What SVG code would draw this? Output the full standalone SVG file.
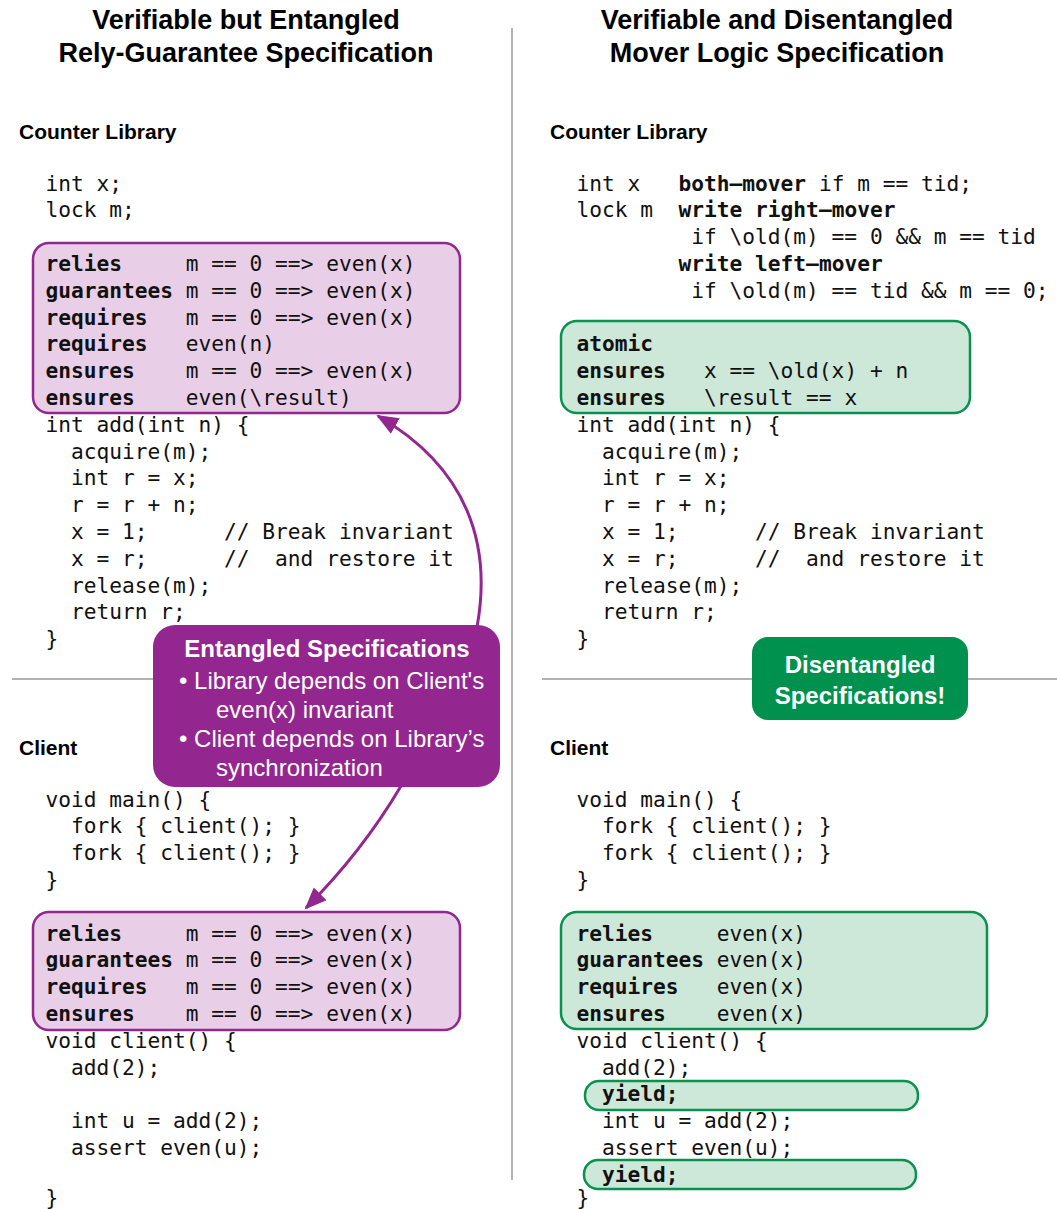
<svg xmlns="http://www.w3.org/2000/svg" width="1057" height="1209" viewBox="0 0 1057 1209">
<style>
.code{font-family:"DejaVu Sans Mono",monospace;font-size:21.2px;fill:#111;white-space:pre}
.b{font-weight:bold}
.title{font-family:"Liberation Sans",Arial,sans-serif;font-size:27px;font-weight:bold;fill:#000;text-anchor:middle}
.head{font-family:"Liberation Sans",Arial,sans-serif;font-size:21px;font-weight:bold;fill:#000}
.pbox{fill:#e8cfe7;stroke:#93268f;stroke-width:2.5}
.gbox{fill:#cde7d9;stroke:#0a9150;stroke-width:2.5}
.call{font-family:"Liberation Sans",Arial,sans-serif;font-size:24px;fill:#fff;white-space:pre}
.div{stroke:#999;stroke-width:1.5;fill:none}
.arr{stroke:#93268f;stroke-width:3;fill:none}
</style>
<defs>
<marker id="ah" markerUnits="userSpaceOnUse" markerWidth="24" markerHeight="20" refX="20" refY="9" orient="auto">
<path d="M0,0 L22,9 L0,18 Z" fill="#93268f"/>
</marker>
</defs>
<rect width="1057" height="1209" fill="#fff"/>

<g id="dividers">
<line class="div" x1="512" y1="28" x2="512" y2="1180"/>
<line class="div" x1="12" y1="679" x2="300" y2="679"/>
<line class="div" x1="542" y1="679" x2="1057" y2="679"/>
</g>

<g id="titles">
<text class="title" x="246" y="29">Verifiable but Entangled</text>
<text class="title" x="246" y="62">Rely-Guarantee Specification</text>
<text class="title" x="777" y="29">Verifiable and Disentangled</text>
<text class="title" x="777" y="62">Mover Logic Specification</text>
<text class="head" x="19" y="139">Counter Library</text>
<text class="head" x="550" y="139">Counter Library</text>
<text class="head" x="19" y="755">Client</text>
<text class="head" x="550" y="755">Client</text>
</g>

<g id="left-library">
<rect class="pbox" x="33" y="243" width="427" height="170" rx="16"/>
<text class="code" x="45.5" y="190.5">int x;</text>
<text class="code" x="45.5" y="217.3">lock m;</text>
<text class="code" x="45.5" y="270.9"><tspan class="b">relies</tspan>     m == 0 ==&gt; even(x)</text>
<text class="code" x="45.5" y="297.7"><tspan class="b">guarantees</tspan> m == 0 ==&gt; even(x)</text>
<text class="code" x="45.5" y="324.5"><tspan class="b">requires</tspan>   m == 0 ==&gt; even(x)</text>
<text class="code" x="45.5" y="351.3"><tspan class="b">requires</tspan>   even(n)</text>
<text class="code" x="45.5" y="378.1"><tspan class="b">ensures</tspan>    m == 0 ==&gt; even(x)</text>
<text class="code" x="45.5" y="404.9"><tspan class="b">ensures</tspan>    even(\result)</text>
<text class="code" x="45.5" y="431.7">int add(int n) {</text>
<text class="code" x="45.5" y="458.5">  acquire(m);</text>
<text class="code" x="45.5" y="485.3">  int r = x;</text>
<text class="code" x="45.5" y="512.1">  r = r + n;</text>
<text class="code" x="45.5" y="538.9">  x = 1;      // Break invariant</text>
<text class="code" x="45.5" y="565.7">  x = r;      //  and restore it</text>
<text class="code" x="45.5" y="592.5">  release(m);</text>
<text class="code" x="45.5" y="619.3">  return r;</text>
<text class="code" x="45.5" y="646.1">}</text>
</g>

<g id="right-library">
<rect class="gbox" x="561" y="321" width="409" height="92" rx="16"/>
<text class="code" x="576.5" y="190.5">int x   <tspan class="b">both–mover</tspan> if m == tid;</text>
<text class="code" x="576.5" y="217.3">lock m  <tspan class="b">write right–mover</tspan></text>
<text class="code" x="576.5" y="244.1">         if \old(m) == 0 &amp;&amp; m == tid</text>
<text class="code" x="576.5" y="270.9">        <tspan class="b">write left–mover</tspan></text>
<text class="code" x="576.5" y="297.7">         if \old(m) == tid &amp;&amp; m == 0;</text>
<text class="code" x="576.5" y="351.3"><tspan class="b">atomic</tspan></text>
<text class="code" x="576.5" y="378.1"><tspan class="b">ensures</tspan>   x == \old(x) + n</text>
<text class="code" x="576.5" y="404.9"><tspan class="b">ensures</tspan>   \result == x</text>
<text class="code" x="576.5" y="431.7">int add(int n) {</text>
<text class="code" x="576.5" y="458.5">  acquire(m);</text>
<text class="code" x="576.5" y="485.3">  int r = x;</text>
<text class="code" x="576.5" y="512.1">  r = r + n;</text>
<text class="code" x="576.5" y="538.9">  x = 1;      // Break invariant</text>
<text class="code" x="576.5" y="565.7">  x = r;      //  and restore it</text>
<text class="code" x="576.5" y="592.5">  release(m);</text>
<text class="code" x="576.5" y="619.3">  return r;</text>
<text class="code" x="576.5" y="646.1">}</text>
</g>

<g id="left-client">
<rect class="pbox" x="33" y="912" width="427" height="118" rx="16"/>
<text class="code" x="45.5" y="806.5">void main() {</text>
<text class="code" x="45.5" y="833.3">  fork { client(); }</text>
<text class="code" x="45.5" y="860.1">  fork { client(); }</text>
<text class="code" x="45.5" y="886.9">}</text>
<text class="code" x="45.5" y="940.5"><tspan class="b">relies</tspan>     m == 0 ==&gt; even(x)</text>
<text class="code" x="45.5" y="967.3"><tspan class="b">guarantees</tspan> m == 0 ==&gt; even(x)</text>
<text class="code" x="45.5" y="994.1"><tspan class="b">requires</tspan>   m == 0 ==&gt; even(x)</text>
<text class="code" x="45.5" y="1020.9"><tspan class="b">ensures</tspan>    m == 0 ==&gt; even(x)</text>
<text class="code" x="45.5" y="1047.7">void client() {</text>
<text class="code" x="45.5" y="1074.5">  add(2);</text>
<text class="code" x="45.5" y="1128.1">  int u = add(2);</text>
<text class="code" x="45.5" y="1154.9">  assert even(u);</text>
<text class="code" x="45.5" y="1205">}</text>
</g>

<g id="right-client">
<rect class="gbox" x="561" y="912" width="426" height="117" rx="16"/>
<rect class="gbox" x="585" y="1081" width="333" height="29" rx="14"/>
<rect class="gbox" x="584" y="1160" width="332" height="29" rx="14"/>
<text class="code" x="576.5" y="806.5">void main() {</text>
<text class="code" x="576.5" y="833.3">  fork { client(); }</text>
<text class="code" x="576.5" y="860.1">  fork { client(); }</text>
<text class="code" x="576.5" y="886.9">}</text>
<text class="code" x="576.5" y="940.5"><tspan class="b">relies</tspan>     even(x)</text>
<text class="code" x="576.5" y="967.3"><tspan class="b">guarantees</tspan> even(x)</text>
<text class="code" x="576.5" y="994.1"><tspan class="b">requires</tspan>   even(x)</text>
<text class="code" x="576.5" y="1020.9"><tspan class="b">ensures</tspan>    even(x)</text>
<text class="code" x="576.5" y="1047.7">void client() {</text>
<text class="code" x="576.5" y="1074.5">  add(2);</text>
<text class="code" x="576.5" y="1101.3">  <tspan class="b">yield;</tspan></text>
<text class="code" x="576.5" y="1128.1">  int u = add(2);</text>
<text class="code" x="576.5" y="1154.9">  assert even(u);</text>
<text class="code" x="576.5" y="1181.7">  <tspan class="b">yield;</tspan></text>
<text class="code" x="576.5" y="1205">}</text>
</g>

<g id="connectors">
<path class="arr" d="M477,627 C492,545 468,468 378,416" marker-end="url(#ah)"/>
<path class="arr" d="M401,786 Q362,852 306,908" marker-end="url(#ah)"/>
</g>

<g id="entangled-callout">
<rect x="153" y="625" width="347" height="162" rx="22" fill="#93268f"/>
<text class="call" x="327" y="657" text-anchor="middle" font-weight="bold">Entangled Specifications</text>
<text class="call" x="179" y="689">• Library depends on Client's</text>
<text class="call" x="216" y="718">even(x) invariant</text>
<text class="call" x="179" y="747">• Client depends on Library’s</text>
<text class="call" x="216" y="776">synchronization</text>
</g>

<g id="disentangled-callout">
<rect x="752" y="637" width="216" height="83" rx="16" fill="#00914f"/>
<text class="call" x="860" y="673" text-anchor="middle" font-weight="bold">Disentangled</text>
<text class="call" x="860" y="704" text-anchor="middle" font-weight="bold">Specifications!</text>
</g>
</svg>
